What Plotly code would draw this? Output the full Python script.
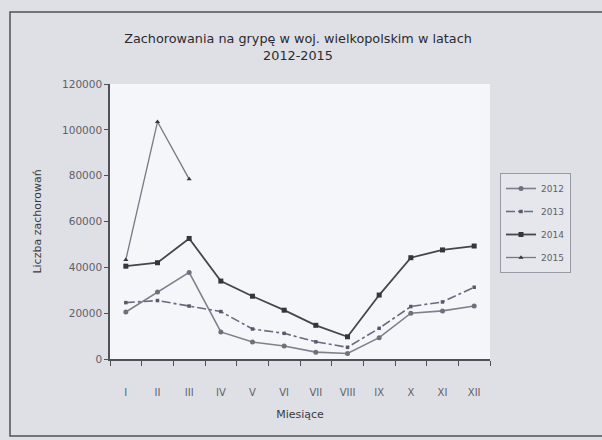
import plotly.graph_objects as go

months = ["I", "II", "III", "IV", "V", "VI", "VII", "VIII", "IX", "X", "XI", "XII"]
y2012 = [20500, 29200, 37800, 11800, 7400, 5700, 3000, 2400, 9300, 20000, 21000, 23100]
y2013 = [24600, 25500, 23100, 20700, 13100, 11200, 7500, 5100, 13400, 22900, 24900, 31300]
y2014 = [40500, 42000, 52600, 34000, 27400, 21300, 14700, 9700, 27900, 44200, 47600, 49300]
y2015 = [43300, 103500, 78500]
yticks = [0, 20000, 40000, 60000, 80000, 100000, 120000]

FONT = "DejaVu Sans, Verdana, sans-serif"

fig = go.Figure()
fig.add_trace(go.Scatter(x=months, y=y2012, name="2012", mode="lines+markers",
                         line=dict(color="#80808c", width=1.6),
                         marker=dict(symbol="circle", size=5, color="#70707c"),
                         legendgroup="a"))
fig.add_trace(go.Scatter(x=months, y=y2013, name="2013", mode="lines+markers",
                         line=dict(color="#666c7e", width=1.6, dash="dashdot"),
                         marker=dict(symbol="square", size=3.5, color="#555a6a"),
                         legendgroup="b"))
fig.add_trace(go.Scatter(x=months, y=y2014, name="2014", mode="lines+markers",
                         line=dict(color="#45454e", width=1.8),
                         marker=dict(symbol="square", size=5, color="#35353e"),
                         legendgroup="c"))
fig.add_trace(go.Scatter(x=months[:3], y=y2015, name="2015", mode="lines+markers",
                         line=dict(color="#767886", width=1.3),
                         marker=dict(symbol="triangle-up", size=4.5, color="#35353e"),
                         legendgroup="d"))

L, R, T, B = 110, 490, 84, 359
W, H = 602, 440

def px(x):
    return (x - L) / (R - L)

def py(y):
    return (B - y) / (B - T)

fig.update_layout(
    width=W, height=H,
    margin=dict(l=L, r=W - R, t=T, b=H - B),
    paper_bgcolor="#dfe0e5",
    plot_bgcolor="#f5f6f9",
    font=dict(family=FONT, size=9, color="#555560"),
    title=dict(text="Zachorowania na grypę w woj. wielkopolskim w latach<br>2012-2015",
               x=px(298), xref="paper", xanchor="center",
               y=1 - 43 / H, yanchor="middle",
               font=dict(family=FONT, size=12.8, color="#2a2a30")),
    showlegend=True,
    legend=dict(x=px(500), y=py(173), xanchor="left", yanchor="top",
                bgcolor="#e6e7ec", bordercolor="#9a9aa6", borderwidth=1,
                font=dict(family=FONT, size=9, color="#606068"),
                tracegroupgap=4, itemwidth=30),
    shapes=[
        dict(type="rect", xref="paper", yref="paper",
             x0=px(10), x1=px(640), y0=py(436), y1=py(12),
             line=dict(color="#50505c", width=1.5), fillcolor="rgba(0,0,0,0)",
             layer="below"),
    ],
)

fig.update_xaxes(
    type="category", categoryorder="array", categoryarray=months,
    range=[-0.5, 11.5], tickson="boundaries",
    ticks="outside", ticklen=5, tickcolor="#505058",
    showline=True, linecolor="#505058", linewidth=1.5,
    showgrid=False, zeroline=False, ticklabelstandoff=23,
    tickfont=dict(family=FONT, size=10, color="#606068"),
    title=dict(text="Miesiące", standoff=14,
               font=dict(family=FONT, size=11, color="#3a3a42")),
)
fig.update_yaxes(
    range=[0, 120000], tickvals=yticks, tickformat="d",
    ticks="outside", ticklen=4, tickcolor="#505058",
    showline=True, linecolor="#505058", linewidth=1.5,
    showgrid=False, zeroline=False,
    tickfont=dict(family=FONT, size=10.5, color="#606068"),
    title=dict(text="Liczba zachorowań", standoff=18,
               font=dict(family=FONT, size=11, color="#3a3a42")),
)

fig.write_html("out.html", config={"displayModeBar": False},
               post_script="document.body.style.margin='0';document.body.style.background='#eceef1';")
